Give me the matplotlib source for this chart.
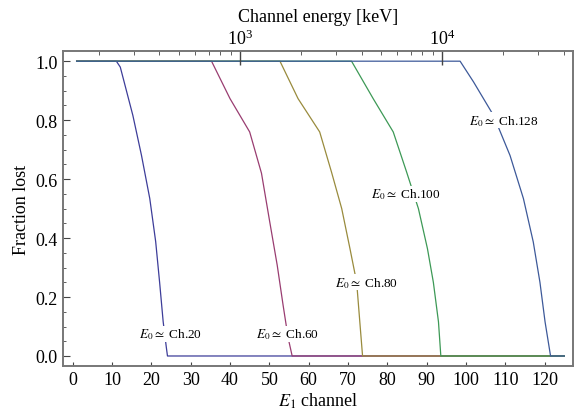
import numpy as np
import matplotlib
matplotlib.use("Agg")
import matplotlib.pyplot as plt
from matplotlib.ticker import MultipleLocator, LogLocator, NullFormatter

plt.rcParams['font.family'] = ['Liberation Serif', 'DejaVu Serif']
plt.rcParams['mathtext.fontset'] = 'stix'

# fraction lost vs E1 channel, one curve per E0
ch20_x = [1, 11.1, 12.1, 15.3, 17.5, 19.6, 21.1, 22.1, 23.0, 23.8, 24.1, 125]
ch20_y = [1, 1, 0.98, 0.816, 0.68, 0.534, 0.388, 0.25, 0.117, 0.03, 0, 0]

ch60_x = [1, 35.3, 40.0, 45.0, 48.0, 50.1, 52.0, 53.5, 54.8, 55.8, 125]
ch60_y = [1, 1, 0.873, 0.76, 0.62, 0.455, 0.308, 0.172, 0.06, 0, 0]

ch80_x = [1, 52.7, 57.3, 62.8, 65.8, 68.4, 70.5, 72.2, 73.0, 73.7, 125]
ch80_y = [1, 1, 0.873, 0.76, 0.624, 0.5, 0.364, 0.25, 0.116, 0, 0]

ch100_x = [1, 70.9, 76.4, 81.5, 84.9, 87.9, 90.2, 91.7, 93.0, 93.6, 125]
ch100_y = [1, 1, 0.873, 0.76, 0.624, 0.5, 0.364, 0.25, 0.116, 0, 0]

ch128_x = [1, 98.5, 101.9, 107.0, 111.2, 114.6, 117.1, 118.8, 120.1, 121.5, 125]
ch128_y = [1, 1, 0.93, 0.816, 0.68, 0.534, 0.387, 0.25, 0.116, 0, 0]

labels = ['20', '60', '80', '100', '128']
label_x = [24.9, 54.7, 74.7, 84.7, 109.6]
label_y = [0.076, 0.076, 0.25, 0.55, 0.80]

colors = [(0.24, 0.24, 0.6), (0.6, 0.24, 0.4428), (0.6, 0.547, 0.24),
          (0.24, 0.6, 0.3369), (0.24, 0.3499, 0.6)]

# channel -> energy [keV] calibration (log scale)
def ch2e(ch):
    return 10 ** (3 + (np.asarray(ch) - 42.5) / 51.4)

fig = plt.figure(figsize=(5.82, 4.14), dpi=100)
ax = fig.add_axes([0.108, 0.1135, 0.8765, 0.7605])

curves = [(ch20_x, ch20_y), (ch60_x, ch60_y), (ch80_x, ch80_y),
          (ch100_x, ch100_y), (ch128_x, ch128_y)]
for (x, y), c in zip(curves, colors):
    ax.plot(x, y, color=c, lw=0.9, solid_joinstyle='round')

for lab, lx, ly in zip(labels, label_x, label_y):
    ax.text(lx, ly, r'$E_0 \simeq$ Ch.' + lab, fontsize=9.5, ha='center', va='center',
            bbox=dict(facecolor='white', edgecolor='none', pad=0.5))

xmin, xmax = -2.5, 127.2
ax.set_xlim(xmin, xmax)
ax.set_ylim(-0.034, 1.034)
ax.set_xticks(np.arange(0, 121, 10))
ax.set_yticks(np.arange(0, 1.01, 0.2))
ax.set_yticklabels(['0.0', '0.2', '0.4', '0.6', '0.8', '1.0'])
ax.yaxis.set_minor_locator(MultipleLocator(0.05))
ax.tick_params(axis='both', which='both', direction='in', labelsize=13, colors='#444444',
               labelcolor='black')
ax.tick_params(axis='x', which='major', length=3, top=False)
ax.tick_params(axis='y', which='major', length=5, right=False)
ax.tick_params(axis='y', which='minor', length=2.5, right=False)
for s in ax.spines.values():
    s.set_color('#777777')
    s.set_linewidth(1.2)
ax.set_xlabel(r'$E_1$ channel', fontsize=13, labelpad=2)
ax.set_ylabel('Fraction lost', fontsize=13, labelpad=4)

ax2 = ax.twiny()
ax2.set_xscale('log')
ax2.set_xlim(ch2e(xmin), ch2e(xmax))
ax2.xaxis.set_major_locator(LogLocator(base=10))
ax2.xaxis.set_minor_locator(LogLocator(base=10, subs=np.arange(2, 10)))
ax2.xaxis.set_minor_formatter(NullFormatter())
ax2.tick_params(axis='x', which='both', direction='in', labelsize=13, colors='#444444',
                labelcolor='black', pad=2)
ax2.tick_params(axis='x', which='major', length=10, width=1.0)
ax2.tick_params(axis='x', which='minor', length=3)
for s in ax2.spines.values():
    s.set_color('#777777')
    s.set_linewidth(1.2)
ax2.set_xlabel('Channel energy [keV]', fontsize=13, labelpad=6)

fig.savefig('out.png', dpi=100)
